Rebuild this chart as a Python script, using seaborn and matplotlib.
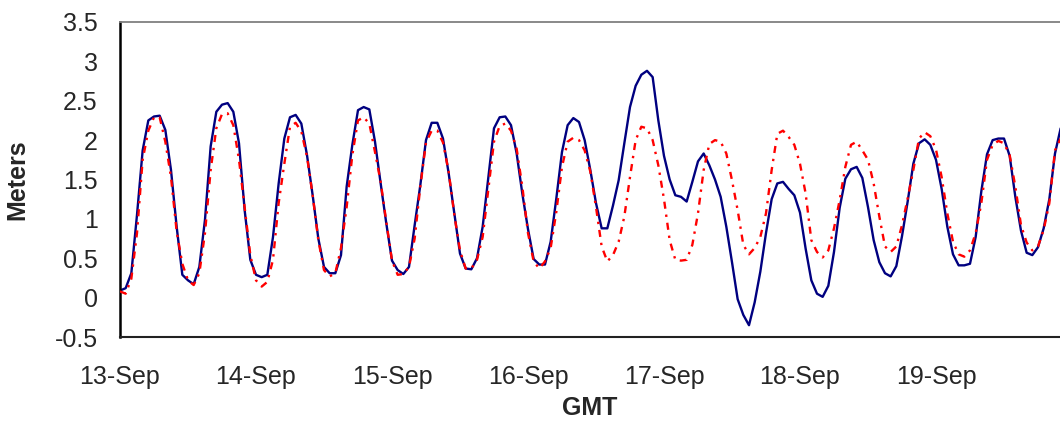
import pandas as pd
import matplotlib
matplotlib.use("Agg")
import matplotlib.pyplot as plt
import matplotlib.dates as mdates
import seaborn as sns

# hourly water level (m), starting 13-Sep 00:00 GMT
observed = [
    0.09, 0.12, 0.31, 1.05, 1.87, 2.25, 2.30, 2.31, 2.13, 1.62, 0.90, 0.29,
    0.22, 0.17, 0.39, 0.99, 1.92, 2.36, 2.45, 2.47, 2.36, 1.96, 1.11, 0.48,
    0.29, 0.26, 0.29, 0.77, 1.45, 2.02, 2.29, 2.32, 2.21, 1.81, 1.30, 0.75,
    0.39, 0.31, 0.31, 0.54, 1.41, 1.94, 2.38, 2.42, 2.39, 1.98, 1.45, 0.94,
    0.47, 0.35, 0.30, 0.39, 0.92, 1.43, 2.00, 2.22, 2.22, 2.02, 1.58, 1.07,
    0.56, 0.37, 0.36, 0.50, 0.90, 1.53, 2.15, 2.29, 2.30, 2.19, 1.83, 1.32,
    0.87, 0.49, 0.42, 0.42, 0.71, 1.26, 1.85, 2.19, 2.28, 2.23, 2.00, 1.62,
    1.20, 0.88, 0.88, 1.17, 1.49, 1.96, 2.42, 2.69, 2.83, 2.88, 2.80, 2.25,
    1.80, 1.50, 1.30, 1.28, 1.22, 1.47, 1.73, 1.83, 1.68, 1.50, 1.28, 0.90,
    0.45, -0.02, -0.22, -0.35, -0.06, 0.33, 0.82, 1.25, 1.45, 1.47, 1.38, 1.30,
    1.08, 0.62, 0.22, 0.05, 0.01, 0.15, 0.58, 1.14, 1.51, 1.63, 1.66, 1.52,
    1.15, 0.73, 0.45, 0.31, 0.27, 0.40, 0.78, 1.22, 1.70, 1.96, 2.01, 1.94,
    1.75, 1.38, 0.90, 0.55, 0.41, 0.41, 0.43, 0.77, 1.35, 1.82, 2.00, 2.02,
    2.02, 1.80, 1.28, 0.85, 0.57, 0.54, 0.64, 0.88, 1.25, 1.83, 2.15,
]
predicted = [
    0.08, 0.05, 0.24, 0.82, 1.75, 2.12, 2.29, 2.29, 1.98, 1.53, 0.84, 0.43,
    0.22, 0.16, 0.31, 0.82, 1.62, 2.15, 2.33, 2.34, 2.19, 1.75, 1.15, 0.54,
    0.22, 0.14, 0.20, 0.48, 1.20, 1.70, 2.17, 2.22, 2.11, 1.79, 1.30, 0.73,
    0.35, 0.27, 0.31, 0.63, 1.15, 1.81, 2.25, 2.29, 2.21, 1.85, 1.47, 0.96,
    0.47, 0.29, 0.30, 0.39, 0.75, 1.41, 1.97, 2.12, 2.12, 1.97, 1.60, 1.05,
    0.60, 0.37, 0.37, 0.48, 0.77, 1.37, 1.98, 2.18, 2.21, 2.12, 1.89, 1.41,
    0.82, 0.46, 0.37, 0.46, 0.63, 1.09, 1.66, 1.98, 2.03, 2.00, 1.87, 1.60,
    1.15, 0.65, 0.46, 0.54, 0.71, 1.03, 1.53, 2.00, 2.17, 2.15, 2.00, 1.68,
    1.25, 0.73, 0.48, 0.47, 0.48, 0.67, 1.07, 1.62, 1.95, 2.00, 1.98, 1.83,
    1.49, 1.11, 0.67, 0.55, 0.63, 0.77, 1.07, 1.62, 2.08, 2.12, 2.04, 1.94,
    1.70, 1.32, 0.73, 0.58, 0.51, 0.60, 0.88, 1.24, 1.66, 1.94, 1.98, 1.87,
    1.75, 1.45, 1.03, 0.65, 0.58, 0.65, 0.92, 1.26, 1.62, 2.02, 2.10, 2.05,
    1.88, 1.53, 1.07, 0.71, 0.55, 0.52, 0.60, 0.82, 1.20, 1.75, 1.94, 1.99,
    1.96, 1.81, 1.41, 0.92, 0.70, 0.60, 0.65, 0.86, 1.20, 1.87, 2.02,
]
start_time = "2003-09-13 00:00"
end_time = "2003-09-19 21:53"
tick_days = ["2003-09-13", "2003-09-14", "2003-09-15", "2003-09-16",
             "2003-09-17", "2003-09-18", "2003-09-19"]
y_ticks = [-0.5, 0, 0.5, 1, 1.5, 2, 2.5, 3, 3.5]
y_labels = ["-0.5", "0", "0.5", "1", "1.5", "2", "2.5", "3", "3.5"]

df = pd.DataFrame({
    "time": pd.date_range(start_time, periods=len(observed), freq="h"),
    "observed": observed,
    "predicted": predicted,
})

sns.set_style("white")
plt.rcParams["font.family"] = ["Liberation Sans", "DejaVu Sans"]

fig = plt.figure(figsize=(10.6, 4.22), dpi=100)
ax = fig.add_axes([0.1132, 0.2014, 0.8868, 0.7465])

sns.lineplot(data=df, x="time", y="observed", ax=ax, color="#000080",
             linewidth=1.7, zorder=2)
sns.lineplot(data=df, x="time", y="predicted", ax=ax, color="#ff0000",
             linewidth=1.7, linestyle=(0, (3, 2.5, 1, 2.5)), zorder=3)

ax.set_xlim(pd.Timestamp(start_time), pd.Timestamp(end_time))
ax.set_ylim(-0.5, 3.5)
ax.set_yticks(y_ticks)
ax.set_yticklabels(y_labels)
ax.set_xticks(pd.to_datetime(tick_days))
ax.xaxis.set_major_formatter(mdates.DateFormatter("%d-%b"))

ax.set_xlabel("GMT", fontsize=18, fontweight="bold", labelpad=5)
ax.set_ylabel("Meters", fontsize=18, fontweight="bold", labelpad=18)

ax.tick_params(axis="y", direction="out", length=6, width=1.2, pad=10,
               labelsize=18, color="black")
ax.tick_params(axis="x", direction="in", length=6, width=1.2, pad=20,
               labelsize=18, color="#444444")
ax.yaxis.get_major_ticks()[-1].tick1line.set_color("#808080")

ax.spines["right"].set_visible(False)
ax.spines["top"].set_color("#808080")
ax.spines["top"].set_linewidth(1.3)
ax.spines["left"].set_color("black")
ax.spines["left"].set_linewidth(1.8)
ax.spines["bottom"].set_color("#222222")
ax.spines["bottom"].set_linewidth(1.5)

fig.savefig("out.png", dpi=100)
